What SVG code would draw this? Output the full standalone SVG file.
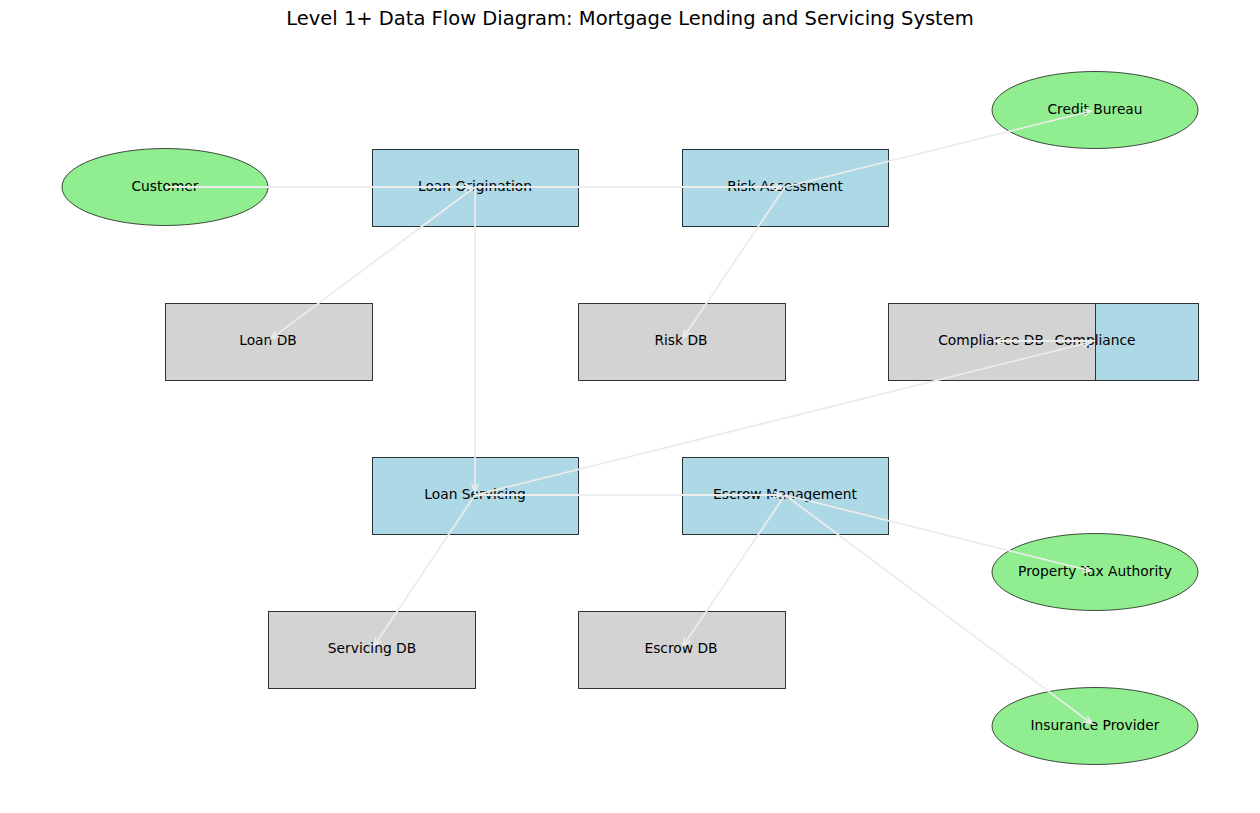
<svg xmlns="http://www.w3.org/2000/svg" width="1260" height="813" viewBox="0 0 1260 813">
<style>
.proc{fill:#add8e6;stroke:#2a3538;stroke-width:1}
.store{fill:#d3d3d3;stroke:#333;stroke-width:1}
.ext{fill:#90ee90;stroke:#000;stroke-width:0.7}
.lbl{font-family:"DejaVu Sans",sans-serif;font-size:13.8px;fill:#000;text-anchor:middle;dominant-baseline:central}
.title{font-family:"DejaVu Sans",sans-serif;font-size:19.5px;fill:#000;text-anchor:middle;dominant-baseline:central}
.edge{stroke:#ececec;stroke-width:1.8;fill:none;marker-end:url(#arr)}
</style>
<defs>
<marker id="arr" markerUnits="userSpaceOnUse" markerWidth="12" markerHeight="10" refX="9" refY="4" orient="auto">
<path d="M1,0.5 L9,4 L1,7.5" fill="none" stroke="#ececec" stroke-width="1.6"/>
</marker>
</defs>
<rect width="1260" height="813" fill="#fff"/>
<text class="title" x="630" y="18">Level 1+ Data Flow Diagram: Mortgage Lending and Servicing System</text>
<g id="nodes">
<g id="customer"><ellipse class="ext" cx="165" cy="187" rx="103" ry="38.5"/><text class="lbl" x="165" y="186">Customer</text></g>
<g id="loan-origination"><rect class="proc" x="372.5" y="149.5" width="206" height="77"/><text class="lbl" x="475" y="186">Loan Origination</text></g>
<g id="risk-assessment"><rect class="proc" x="682.5" y="149.5" width="206" height="77"/><text class="lbl" x="785" y="186">Risk Assessment</text></g>
<g id="credit-bureau"><ellipse class="ext" cx="1095" cy="110" rx="103" ry="38.5"/><text class="lbl" x="1095" y="109">Credit Bureau</text></g>
<g id="loan-db"><rect class="store" x="165.5" y="303.5" width="207" height="77"/><text class="lbl" x="268" y="340">Loan DB</text></g>
<g id="risk-db"><rect class="store" x="578.5" y="303.5" width="207" height="77"/><text class="lbl" x="681" y="340">Risk DB</text></g>
<g id="compliance-db"><rect class="store" x="888.5" y="303.5" width="207" height="77"/><text class="lbl" x="991" y="340">Compliance DB</text></g>
<g id="compliance"><rect class="proc" x="1095.5" y="303.5" width="103" height="77"/><text class="lbl" x="1095" y="340">Compliance</text></g>
<g id="loan-servicing"><rect class="proc" x="372.5" y="457.5" width="206" height="77"/><text class="lbl" x="475" y="494">Loan Servicing</text></g>
<g id="escrow-management"><rect class="proc" x="682.5" y="457.5" width="206" height="77"/><text class="lbl" x="785" y="494">Escrow Management</text></g>
<g id="property-tax-authority"><ellipse class="ext" cx="1095" cy="572" rx="103" ry="38.5"/><text class="lbl" x="1095" y="571">Property Tax Authority</text></g>
<g id="servicing-db"><rect class="store" x="268.5" y="611.5" width="207" height="77"/><text class="lbl" x="372" y="648">Servicing DB</text></g>
<g id="escrow-db"><rect class="store" x="578.5" y="611.5" width="207" height="77"/><text class="lbl" x="681" y="648">Escrow DB</text></g>
<g id="insurance-provider"><ellipse class="ext" cx="1095" cy="726" rx="103" ry="38.5"/><text class="lbl" x="1095" y="725">Insurance Provider</text></g>
</g>
<g id="connectors">
<line class="edge" x1="165" y1="187" x2="472" y2="187"/>
<line class="edge" x1="475" y1="187" x2="782" y2="187"/>
<line class="edge" x1="475" y1="187" x2="271" y2="338.6"/>
<line class="edge" x1="475" y1="187" x2="475" y2="492"/>
<line class="edge" x1="785" y1="187" x2="1091" y2="111"/>
<line class="edge" x1="785" y1="187" x2="683.2" y2="337.7"/>
<line class="edge" x1="475" y1="495" x2="1091" y2="342"/>
<line class="edge" x1="1095" y1="341" x2="995" y2="341"/>
<line class="edge" x1="475" y1="495" x2="782" y2="495"/>
<line class="edge" x1="475" y1="495" x2="374.2" y2="645.7"/>
<line class="edge" x1="785" y1="495" x2="683.2" y2="645.7"/>
<line class="edge" x1="785" y1="495" x2="1091" y2="571"/>
<line class="edge" x1="785" y1="495" x2="1091.8" y2="723.6"/>
</g>
</svg>
